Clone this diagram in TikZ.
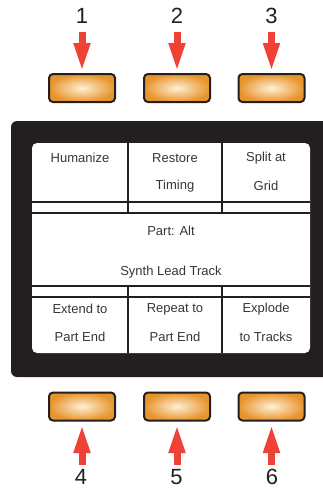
\documentclass[tikz,border=0pt]{standalone}
\usepackage{fontspec}
\setmainfont{Liberation Sans}
\usetikzlibrary{arrows.meta}
\definecolor{panel}{HTML}{231F20}
\definecolor{btnin}{HTML}{FDF0D6}
\definecolor{btnout}{HTML}{E8942C}
\definecolor{arr}{HTML}{EF4136}
\tikzset{
  btn/.style={draw=panel, line width=2pt, rounded corners=4pt, minimum width=66pt, minimum height=28pt, inner sep=0pt, shading=radial, inner color=btnin, outer color=btnout},
  num/.style={font=\fontsize{22}{24}\selectfont, text=panel, inner sep=0pt},
  cell/.style={font=\fontsize{13}{15}\selectfont, text=panel!90!white, inner sep=0pt},
  press/.style={arr, line width=7pt, -{Triangle[width=15pt,length=29pt]}},
  grid/.style={panel, line width=2.6pt}
}
\begin{document}
\begin{tikzpicture}[x=1pt,y=-1pt]
\clip (0,0) rectangle (323,488);
\useasboundingbox (0,0) rectangle (323,488);
% panel
\fill[panel, rounded corners=6pt] (11,121) rectangle (340,377);
\fill[white, rounded corners=5pt] (32,143) rectangle (310,353);
% grid lines
\draw[grid] (32,202) -- (310,202);
\draw[grid] (32,213) -- (310,213);
\draw[grid] (32,286) -- (310,286);
\draw[grid] (32,297) -- (310,297);
\draw[grid] (128,143) -- (128,213);
\draw[grid] (222,143) -- (222,213);
\draw[grid] (128,286) -- (128,353);
\draw[grid] (222,286) -- (222,353);
% cell texts
\node[cell] (t1a) at (80,158) {Humanize};
\node[cell] (t2a) at (175,158) {Restore};
\node[cell] (t2b) at (175,186) {Timing};
\node[cell] (t3a) at (266,158) {Split at};
\node[cell] (t3b) at (266,186) {Grid};
\node[cell] (pa) at (171,231) {Part: Alt};
\node[cell] (pb) at (171,272) {Synth Lead Track};
\node[cell] (t4a) at (80,309) {Extend to};
\node[cell] (t4b) at (80,337) {Part End};
\node[cell] (t5a) at (175,309) {Repeat to};
\node[cell] (t5b) at (175,337) {Part End};
\node[cell] (t6a) at (266,309) {Explode};
\node[cell] (t6b) at (266,337) {to Tracks};
% buttons
\node[btn] (b1) at (82,88) {};
\node[btn] (b2) at (177,88) {};
\node[btn] (b3) at (271.5,88) {};
\node[btn] (b4) at (82,406.5) {};
\node[btn] (b5) at (177,406.5) {};
\node[btn] (b6) at (271.5,406.5) {};
% numbers
\node[num] (n1) at (82,16) {1};
\node[num] (n2) at (177,16) {2};
\node[num] (n3) at (271.5,16) {3};
\node[num] (n4) at (81,477) {4};
\node[num] (n5) at (176.5,477) {5};
\node[num] (n6) at (272,477) {6};
% arrow starts and tips
\coordinate (a1) at (82,32);
\coordinate (a2) at (177,32);
\coordinate (a3) at (271.5,32);
\coordinate (a4) at (82,465);
\coordinate (a5) at (177,465);
\coordinate (a6) at (271.5,465);
\coordinate (e1) at (82,72);
\coordinate (e2) at (177,72);
\coordinate (e3) at (271.5,72);
\coordinate (e4) at (82,424);
\coordinate (e5) at (177,424);
\coordinate (e6) at (271.5,424);
\draw[press] (a1) -- (e1);
\draw[press] (a2) -- (e2);
\draw[press] (a3) -- (e3);
\draw[press] (a4) -- (e4);
\draw[press] (a5) -- (e5);
\draw[press] (a6) -- (e6);
\end{tikzpicture}
\end{document}
